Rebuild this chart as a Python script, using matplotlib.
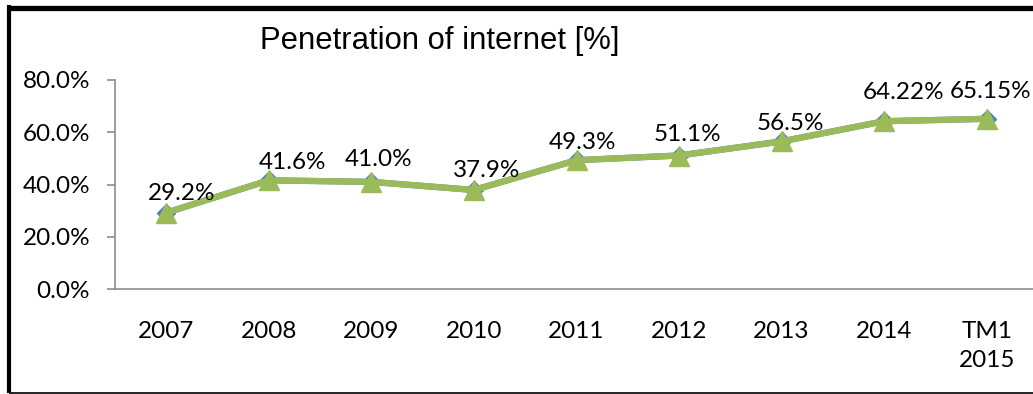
import matplotlib
matplotlib.use("Agg")
import matplotlib.pyplot as plt
from matplotlib.lines import Line2D
from matplotlib.ticker import FuncFormatter

categories = ["2007", "2008", "2009", "2010", "2011", "2012", "2013", "2014", "TM1\n2015"]
penetration = [29.2, 41.6, 41.0, 37.9, 49.3, 51.1, 56.5, 64.22, 65.15]
value_labels = ["29.2%", "41.6%", "41.0%", "37.9%", "49.3%", "51.1%", "56.5%", "64.22%", "65.15%"]
y_ticks = [0, 20, 40, 60, 80]
title = "Penetration of internet [%]"

# hand-placed label offsets in points (dx, dy)
label_offsets = [(11, 14), (17, 13), (5, 16), (9, 14), (4, 13), (6, 15), (6, 13), (14, 21), (3, 20)]

W, H, DPI = 1033, 394, 100
fig = plt.figure(figsize=(W / DPI, H / DPI), dpi=DPI)
fig.patch.set_facecolor("white")

ax = fig.add_axes([115 / W, 1 - 289 / H, 923 / W, 209 / H])
x = list(range(len(categories)))

# blue diamond series sits underneath the green triangle series
ax.plot(x, penetration, color="#4F81BD", lw=4.5, marker="D", ms=9,
        markerfacecolor="#4F81BD", markeredgecolor="#4F81BD", zorder=3)
ax.plot(x, penetration, color="#9BBB59", lw=4.5, marker="^", ms=14,
        markerfacecolor="#9BBB59", markeredgecolor="#9BBB59", zorder=4)

FS = 17.5
label_font = dict(family="Lato", size=FS, color="black")
for xi, v, txt, (dx, dy) in zip(x, penetration, value_labels, label_offsets):
    ax.annotate(txt, (xi, v), xytext=(dx, dy), textcoords="offset points",
                ha="center", va="center", zorder=5, **label_font)

ax.set_xlim(-0.5, len(categories) - 0.5)
ax.set_ylim(0, 80)
ax.set_yticks(y_ticks)
ax.yaxis.set_major_formatter(FuncFormatter(lambda v, _: f"{v:.1f}%"))
ax.set_xticks(x)
ax.set_xticklabels(categories, linespacing=1.45)

for side in ("top", "right"):
    ax.spines[side].set_visible(False)
for side in ("left", "bottom"):
    ax.spines[side].set_color("#8C8C8C")
    ax.spines[side].set_linewidth(1.2)

ax.tick_params(axis="y", length=6, width=1.2, color="#8C8C8C", pad=12,
               labelsize=FS, labelcolor="black")
ax.tick_params(axis="x", length=0, pad=23, labelsize=FS, labelcolor="black")
for lab in ax.get_xticklabels() + ax.get_yticklabels():
    lab.set_family("Lato")
for lab in ax.get_xticklabels():
    lab.set_verticalalignment("top")

fig.text(260 / W, 1 - 41 / H, title, family="Liberation Sans", fontsize=22.3,
         ha="left", va="center", color="black")

# chart frame
fig.add_artist(Line2D([9 / W, 1.0], [1 - 7.5 / H, 1 - 7.5 / H], color="black", lw=3.8,
                      transform=fig.transFigure, solid_capstyle="butt"))
fig.add_artist(Line2D([9 / W, 9 / W], [1 - 5 / H, 1 - 393 / H], color="black", lw=3.0,
                      transform=fig.transFigure, solid_capstyle="butt"))
fig.add_artist(Line2D([9 / W, 1.0], [1 - 392.5 / H, 1 - 392.5 / H], color="black", lw=1.2,
                      transform=fig.transFigure, solid_capstyle="butt"))

fig.savefig("out.png", dpi=DPI, facecolor="white")
